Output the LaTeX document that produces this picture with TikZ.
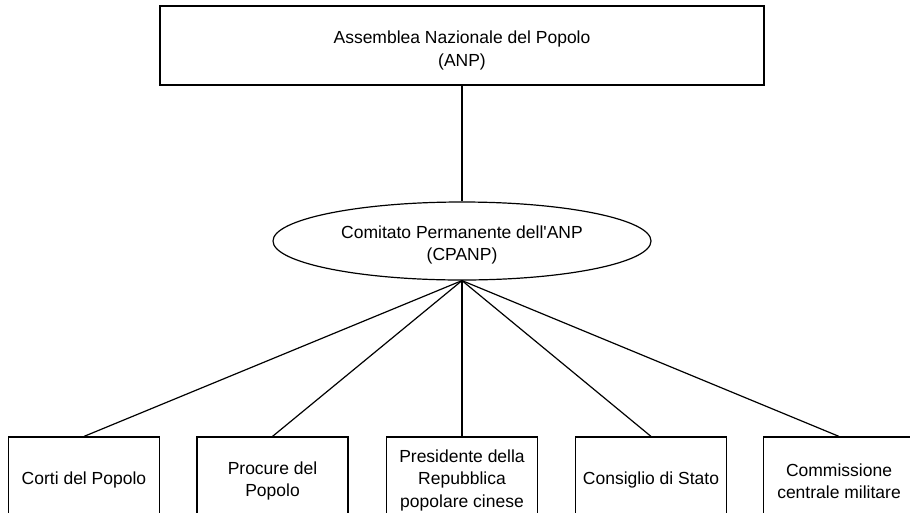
\documentclass[tikz,border=0pt]{standalone}
\usepackage{fontspec}
\setmainfont{Liberation Sans}[Ligatures=TeXOff]
\usetikzlibrary{shapes.geometric}
\newcommand\nudgeup[1]{\rule{0pt}{#1}}
\begin{document}
\begin{tikzpicture}[x=1pt,y=-1pt,
  every node/.style={font=\fontsize{17.5}{22.5}\selectfont, align=center, inner sep=0pt},
  box/.style={draw, line width=1.2pt, rectangle},
  topbox/.style={box, line width=1.5pt, minimum width=604pt, minimum height=79pt},
  oval/.style={draw, line width=1.2pt, ellipse, minimum width=378pt, minimum height=78pt},
  lowbox/.style={box, minimum width=151pt, minimum height=82pt},
  link/.style={line width=1.2pt}]
\useasboundingbox (0,0) rectangle (910,512);
\clip (0,0) rectangle (910,512);
\node[topbox] (anp) at (462,45.5) {\nudgeup{23pt}Assemblea Nazionale del Popolo\\(ANP)};
\node[oval] (cpanp) at (462,241) {\nudgeup{21pt}Comitato Permanente dell'ANP\\(CPANP)};
\node[lowbox] (b1) at (84,478) {\nudgeup{17pt}Corti del Popolo};
\node[lowbox] (b2) at (272.5,478) {\nudgeup{19pt}Procure del\\Popolo};
\node[lowbox] (b3) at (462,478) {\nudgeup{17pt}Presidente della\\Repubblica\\popolare cinese};
\node[lowbox] (b4) at (651,478) {\nudgeup{17pt}Consiglio di Stato};
\node[lowbox] (b5) at (839,478) {\nudgeup{19pt}Commissione\\centrale militare};
\draw[link] (anp.south) -- (cpanp.north);
\foreach \b in {b1,b2,b3,b4,b5} \draw[link] (cpanp.south) -- (\b.north);
\end{tikzpicture}
\end{document}
